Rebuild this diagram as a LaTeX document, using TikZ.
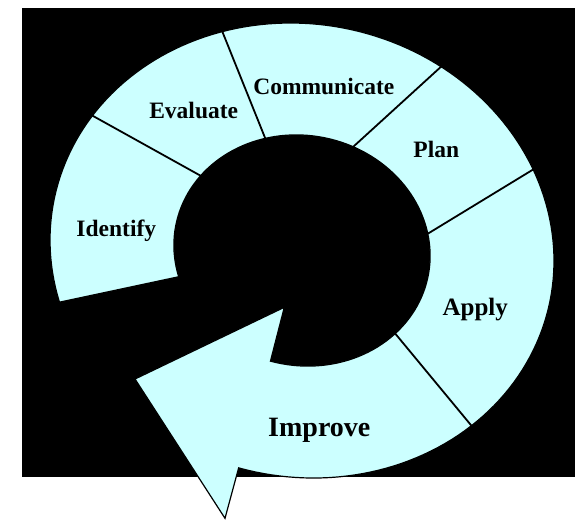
\documentclass[tikz,border=0pt]{standalone}
\usepackage{fontspec}
\setmainfont{Liberation Serif}
\definecolor{ringcyan}{HTML}{CCFFFF}
\begin{document}
\begin{tikzpicture}[x=1pt,y=-1pt,
  lbl/.style={font=\bfseries\fontsize{23.5}{28}\selectfont, inner sep=0pt, anchor=base, text=black},
  divider/.style={draw=black, line width=1.8pt, shorten <=-3pt, shorten >=-3pt},
  ringshape/.style={fill=ringcyan, draw=black, line width=1.2pt, line join=miter}]
\fill[white] (0,0) rectangle (575,520);
\useasboundingbox (0,0) rectangle (575,520);
\fill[black] (22,7.5) rectangle (575,477);
\def\cx{302}\def\cy{250.5}
% ring with arrow head
\path[ringshape]
  plot[domain=153.5:453.8,samples=160,variable=\t]
    ({\cx+253.1*cos(\t)*0.97815-226.3*sin(\t)*0.20791},{\cy+253.1*cos(\t)*0.20791+226.3*sin(\t)*0.97815})
  -- (225,518.3) -- (135,379) -- (284.3,307.3)
  -- plot[domain=453.5:153.5,samples=120,variable=\t]
    ({\cx+128.7*cos(\t)*0.97815-115*sin(\t)*0.20791},{\cy+128.7*cos(\t)*0.20791+115*sin(\t)*0.97815})
  -- cycle;
% dividers
\coordinate (d1o) at (90,114.3);   \coordinate (d1i) at (199.3,175);
\coordinate (d2o) at (221.7,30);   \coordinate (d2i) at (265,137.7);
\coordinate (d3o) at (439.3,68.3); \coordinate (d3i) at (353.3,146.7);
\coordinate (d4o) at (532.3,170);  \coordinate (d4i) at (427.3,234);
\coordinate (d5o) at (471.7,426);  \coordinate (d5i) at (395,333.3);
\draw[divider] (d1o) -- (d1i);
\draw[divider] (d2o) -- (d2i);
\draw[divider] (d3o) -- (d3i);
\draw[divider] (d4o) -- (d4i);
\draw[divider] (d5o) -- (d5i);
% labels
\node[lbl] (identify) at (116.3,236.9) {Identify};
\node[lbl] (evaluate) at (193.7,118.3) {Evaluate};
\node[lbl] (communicate) at (323.8,94.3) {Communicate};
\node[lbl] (plan) at (436.3,157.3) {Plan};
\node[lbl,font=\bfseries\fontsize{25}{30}\selectfont] (apply) at (475.2,315) {Apply};
\node[lbl,font=\bfseries\fontsize{28}{33}\selectfont] (improve) at (319.3,436.7) {Improve};
\end{tikzpicture}
\end{document}
